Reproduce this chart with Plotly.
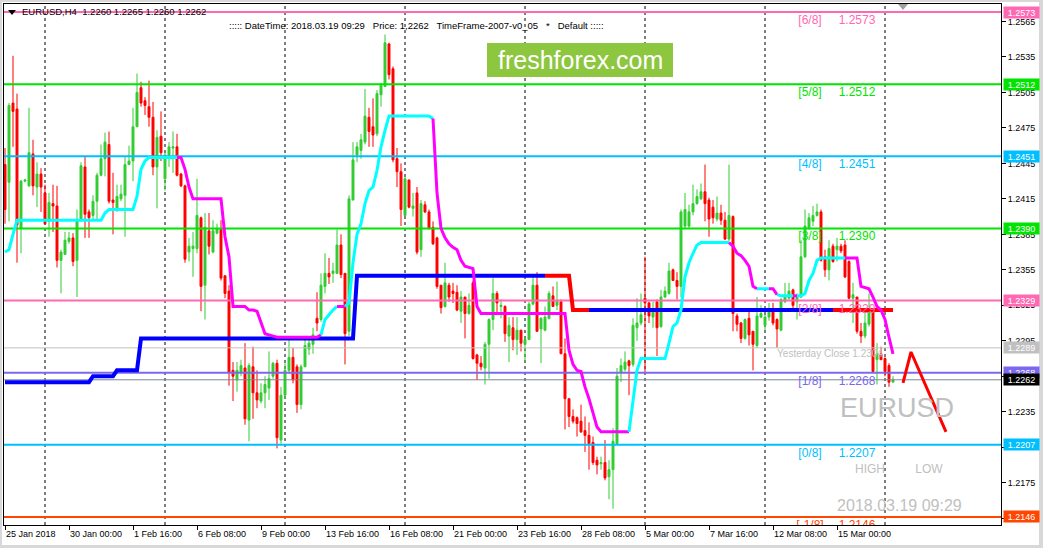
import plotly.graph_objects as go

# ---------------- data (EURUSD H4, 223 bars, bar index 0 = 25 Jan 2018 08:00) ----------------
bar_open = [
    1.2444, 1.2429, 1.2496, 1.2491, 1.2390, 1.2430, 1.2426, 1.2453, 1.2425, 1.2436,
    1.2420, 1.2396, 1.2411, 1.2409, 1.2363, 1.2368, 1.2379, 1.2382, 1.2363, 1.2397,
    1.2442, 1.2404, 1.2401, 1.2413, 1.2435, 1.2449, 1.2461, 1.2414, 1.2407, 1.2415,
    1.2418, 1.2444, 1.2447, 1.2476, 1.2509, 1.2498, 1.2493, 1.2484, 1.2442, 1.2468,
    1.2432, 1.2452, 1.2458, 1.2459, 1.2436, 1.2426, 1.2370, 1.2373, 1.2373, 1.2399,
    1.2342, 1.2388, 1.2370, 1.2386, 1.2389, 1.2350, 1.2337, 1.2270, 1.2262, 1.2268,
    1.2272, 1.2228, 1.2273, 1.2251, 1.2244, 1.2251, 1.2255, 1.2265, 1.2276, 1.2211,
    1.2249, 1.2270, 1.2281, 1.2273, 1.2241, 1.2273, 1.2288, 1.2292, 1.2314, 1.2313,
    1.2341, 1.2352, 1.2352, 1.2352, 1.2376, 1.2352, 1.2303, 1.2414, 1.2452, 1.2456,
    1.2463, 1.2484, 1.2476, 1.2470, 1.2503, 1.2510, 1.2546, 1.2525, 1.2449, 1.2438,
    1.2401, 1.2431, 1.2407, 1.2420, 1.2372, 1.2410, 1.2404, 1.2391, 1.2382, 1.2342,
    1.2324, 1.2342, 1.2337, 1.2336, 1.2320, 1.2332, 1.2318, 1.2344, 1.2283, 1.2276,
    1.2272, 1.2292, 1.2313, 1.2335, 1.2324, 1.2324, 1.2299, 1.2306, 1.2296, 1.2304,
    1.2292, 1.2296, 1.2326, 1.2342, 1.2305, 1.2304, 1.2314, 1.2333, 1.2325, 1.2328,
    1.2284, 1.2246, 1.2231, 1.2230, 1.2227, 1.2219, 1.2215, 1.2209, 1.2194, 1.2191,
    1.2192, 1.2180, 1.2186, 1.2208, 1.2268, 1.2271, 1.2278, 1.2275, 1.2306, 1.2310,
    1.2331, 1.2327, 1.2315, 1.2328, 1.2307, 1.2332, 1.2335, 1.2355, 1.2346, 1.2341,
    1.2392, 1.2392, 1.2404, 1.2411, 1.2415, 1.2421, 1.2414, 1.2408, 1.2398, 1.2403,
    1.2397, 1.2381, 1.2400, 1.2316, 1.2310, 1.2297, 1.2314, 1.2303, 1.2291, 1.2315,
    1.2308, 1.2315, 1.2320, 1.2313, 1.2304, 1.2328, 1.2331, 1.2338, 1.2328, 1.2332,
    1.2366, 1.2390, 1.2396, 1.2401, 1.2404, 1.2366, 1.2355, 1.2375, 1.2372, 1.2375,
    1.2376, 1.2362, 1.2331, 1.2332, 1.2303, 1.2299, 1.2309, 1.2321, 1.2279, 1.2284,
    1.2280, 1.2274, 1.2260,
]
bar_high = [
    1.2458, 1.2496, 1.2536, 1.2504, 1.2431, 1.2432, 1.2492, 1.2465, 1.2446, 1.2441,
    1.2427, 1.2420, 1.2427, 1.2426, 1.2372, 1.2387, 1.2387, 1.2386, 1.2406, 1.2446,
    1.2451, 1.2406, 1.2418, 1.2437, 1.2461, 1.2471, 1.2472, 1.2437, 1.2427, 1.2427,
    1.2451, 1.2460, 1.2492, 1.2521, 1.2514, 1.2501, 1.2515, 1.2497, 1.2473, 1.2489,
    1.2454, 1.2463, 1.2472, 1.2470, 1.2437, 1.2427, 1.2382, 1.2387, 1.2432, 1.2400,
    1.2403, 1.2403, 1.2397, 1.2394, 1.2397, 1.2350, 1.2342, 1.2277, 1.2277, 1.2279,
    1.2293, 1.2276, 1.2290, 1.2270, 1.2259, 1.2265, 1.2286, 1.2277, 1.2279, 1.2256,
    1.2276, 1.2296, 1.2289, 1.2275, 1.2275, 1.2297, 1.2299, 1.2306, 1.2336, 1.2352,
    1.2369, 1.2365, 1.2361, 1.2389, 1.2385, 1.2352, 1.2418, 1.2463, 1.2463, 1.2470,
    1.2508, 1.2492, 1.2500, 1.2507, 1.2513, 1.2554, 1.2547, 1.2527, 1.2458, 1.2445,
    1.2434, 1.2431, 1.2420, 1.2425, 1.2414, 1.2413, 1.2406, 1.2396, 1.2383, 1.2342,
    1.2361, 1.2344, 1.2344, 1.2342, 1.2337, 1.2332, 1.2335, 1.2346, 1.2284, 1.2282,
    1.2294, 1.2314, 1.2348, 1.2337, 1.2330, 1.2325, 1.2315, 1.2315, 1.2315, 1.2304,
    1.2298, 1.2328, 1.2349, 1.2353, 1.2315, 1.2324, 1.2337, 1.2341, 1.2345, 1.2330,
    1.2297, 1.2246, 1.2237, 1.2231, 1.2241, 1.2231, 1.2226, 1.2214, 1.2197, 1.2197,
    1.2211, 1.2194, 1.2221, 1.2272, 1.2280, 1.2286, 1.2279, 1.2314, 1.2331, 1.2335,
    1.2366, 1.2328, 1.2328, 1.2330, 1.2338, 1.2341, 1.2361, 1.2356, 1.2353, 1.2406,
    1.2420, 1.2410, 1.2427, 1.2423, 1.2428, 1.2444, 1.2416, 1.2414, 1.2417, 1.2410,
    1.2404, 1.2444, 1.2401, 1.2318, 1.2311, 1.2314, 1.2320, 1.2303, 1.2332, 1.2325,
    1.2317, 1.2327, 1.2327, 1.2314, 1.2331, 1.2344, 1.2344, 1.2339, 1.2335, 1.2380,
    1.2406, 1.2403, 1.2409, 1.2411, 1.2406, 1.2372, 1.2380, 1.2377, 1.2382, 1.2377,
    1.2380, 1.2363, 1.2344, 1.2332, 1.2310, 1.2320, 1.2335, 1.2322, 1.2293, 1.2290,
    1.2281, 1.2276, 1.2265,
]
bar_low = [
    1.2394, 1.2396, 1.2459, 1.2361, 1.2369, 1.2429, 1.2425, 1.2418, 1.2408, 1.2404,
    1.2393, 1.2383, 1.2387, 1.2357, 1.2335, 1.2368, 1.2377, 1.2358, 1.2332, 1.2396,
    1.2382, 1.2382, 1.2397, 1.2398, 1.2434, 1.2434, 1.2411, 1.2385, 1.2404, 1.2413,
    1.2383, 1.2444, 1.2430, 1.2476, 1.2493, 1.2486, 1.2476, 1.2435, 1.2407, 1.2447,
    1.2422, 1.2442, 1.2437, 1.2434, 1.2425, 1.2361, 1.2362, 1.2349, 1.2369, 1.2320,
    1.2313, 1.2368, 1.2369, 1.2385, 1.2346, 1.2331, 1.2257, 1.2244, 1.2252, 1.2265,
    1.2224, 1.2210, 1.2229, 1.2238, 1.2242, 1.2238, 1.2245, 1.2263, 1.2204, 1.2208,
    1.2246, 1.2267, 1.2259, 1.2234, 1.2237, 1.2273, 1.2283, 1.2284, 1.2303, 1.2311,
    1.2335, 1.2343, 1.2344, 1.2352, 1.2348, 1.2275, 1.2299, 1.2414, 1.2446, 1.2449,
    1.2461, 1.2459, 1.2459, 1.2468, 1.2493, 1.2510, 1.2516, 1.2446, 1.2425, 1.2392,
    1.2400, 1.2407, 1.2400, 1.2368, 1.2366, 1.2403, 1.2389, 1.2376, 1.2339, 1.2318,
    1.2323, 1.2328, 1.2327, 1.2320, 1.2310, 1.2297, 1.2317, 1.2279, 1.2262, 1.2270,
    1.2258, 1.2263, 1.2304, 1.2318, 1.2314, 1.2294, 1.2277, 1.2287, 1.2283, 1.2286,
    1.2277, 1.2296, 1.2325, 1.2303, 1.2276, 1.2303, 1.2313, 1.2324, 1.2321, 1.2284,
    1.2220, 1.2222, 1.2225, 1.2214, 1.2217, 1.2201, 1.2186, 1.2190, 1.2182, 1.2186,
    1.2177, 1.2161, 1.2153, 1.2208, 1.2260, 1.2269, 1.2249, 1.2273, 1.2295, 1.2308,
    1.2268, 1.2310, 1.2306, 1.2282, 1.2306, 1.2331, 1.2334, 1.2346, 1.2330, 1.2332,
    1.2390, 1.2390, 1.2401, 1.2410, 1.2414, 1.2396, 1.2383, 1.2394, 1.2396, 1.2393,
    1.2380, 1.2379, 1.2303, 1.2303, 1.2293, 1.2296, 1.2291, 1.2270, 1.2289, 1.2314,
    1.2304, 1.2312, 1.2308, 1.2289, 1.2303, 1.2327, 1.2330, 1.2322, 1.2313, 1.2331,
    1.2365, 1.2389, 1.2392, 1.2400, 1.2362, 1.2349, 1.2346, 1.2361, 1.2362, 1.2369,
    1.2348, 1.2330, 1.2310, 1.2301, 1.2293, 1.2297, 1.2307, 1.2268, 1.2258, 1.2279,
    1.2265, 1.2256, 1.2260,
]
bar_close = [
    1.2406, 1.2494, 1.2489, 1.2393, 1.2430, 1.2431, 1.2454, 1.2426, 1.2436, 1.2425,
    1.2394, 1.2412, 1.2409, 1.2363, 1.2370, 1.2380, 1.2382, 1.2362, 1.2397, 1.2443,
    1.2402, 1.2399, 1.2413, 1.2435, 1.2449, 1.2463, 1.2413, 1.2412, 1.2417, 1.2419,
    1.2444, 1.2447, 1.2476, 1.2505, 1.2496, 1.2494, 1.2484, 1.2442, 1.2467, 1.2454,
    1.2452, 1.2459, 1.2459, 1.2435, 1.2426, 1.2364, 1.2375, 1.2375, 1.2401, 1.2341,
    1.2391, 1.2375, 1.2388, 1.2390, 1.2348, 1.2335, 1.2268, 1.2265, 1.2270, 1.2274,
    1.2229, 1.2274, 1.2251, 1.2245, 1.2251, 1.2258, 1.2263, 1.2276, 1.2213, 1.2249,
    1.2270, 1.2281, 1.2262, 1.2241, 1.2273, 1.2291, 1.2293, 1.2300, 1.2310, 1.2342,
    1.2352, 1.2349, 1.2354, 1.2376, 1.2351, 1.2301, 1.2415, 1.2448, 1.2459, 1.2465,
    1.2485, 1.2472, 1.2469, 1.2504, 1.2511, 1.2547, 1.2520, 1.2448, 1.2438, 1.2406,
    1.2432, 1.2408, 1.2409, 1.2370, 1.2411, 1.2404, 1.2390, 1.2377, 1.2341, 1.2323,
    1.2344, 1.2332, 1.2335, 1.2321, 1.2332, 1.2318, 1.2325, 1.2280, 1.2276, 1.2273,
    1.2292, 1.2313, 1.2335, 1.2327, 1.2325, 1.2301, 1.2308, 1.2296, 1.2304, 1.2293,
    1.2296, 1.2326, 1.2342, 1.2303, 1.2314, 1.2315, 1.2335, 1.2324, 1.2329, 1.2284,
    1.2246, 1.2231, 1.2227, 1.2225, 1.2218, 1.2215, 1.2208, 1.2192, 1.2190, 1.2192,
    1.2179, 1.2186, 1.2210, 1.2265, 1.2274, 1.2277, 1.2274, 1.2308, 1.2310, 1.2317,
    1.2327, 1.2316, 1.2320, 1.2306, 1.2332, 1.2337, 1.2354, 1.2346, 1.2341, 1.2404,
    1.2406, 1.2404, 1.2411, 1.2417, 1.2421, 1.2411, 1.2398, 1.2399, 1.2403, 1.2397,
    1.2381, 1.2401, 1.2318, 1.2309, 1.2297, 1.2313, 1.2300, 1.2292, 1.2316, 1.2318,
    1.2315, 1.2320, 1.2310, 1.2305, 1.2330, 1.2332, 1.2337, 1.2325, 1.2332, 1.2366,
    1.2392, 1.2399, 1.2401, 1.2404, 1.2363, 1.2355, 1.2373, 1.2362, 1.2375, 1.2371,
    1.2349, 1.2331, 1.2334, 1.2303, 1.2299, 1.2310, 1.2321, 1.2269, 1.2284, 1.2279,
    1.2269, 1.2260, 1.2262,
]

# trailing line (cyan when trend up, magenta when trend down)
trail_values = (
    [1.2370, 1.2372, 1.2385] + [1.2397] * 22 + [1.2403] + [1.2406] * 7
    + [1.2417, 1.2440, 1.2447] + [1.2450] * 9 + [1.2440, 1.2425] + [1.2415] * 8
    + [1.2383, 1.2366] + [1.2324] * 4
    + [1.2321, 1.2321, 1.2320, 1.2310, 1.2301, 1.2300, 1.2299] + [1.2298] * 11
    + [1.2300, 1.2313, 1.2317, 1.2321] + [1.2324] * 3
    + [1.2327, 1.2361, 1.2385, 1.2394, 1.2411, 1.2422, 1.2425, 1.2439, 1.2459, 1.2473]
    + [1.2485] * 11
    + [1.2483, 1.2420, 1.2390, 1.2382, 1.2377, 1.2374, 1.2372, 1.2363, 1.2358, 1.2357, 1.2356, 1.2324]
    + [1.2318] * 22
    + [1.2287, 1.2275, 1.2270, 1.2269, 1.2256, 1.2246, 1.2234, 1.2222] + [1.2218] * 8
    + [1.2242, 1.2270] + [1.2280] * 7
    + [1.2293, 1.2307, 1.2310, 1.2321, 1.2349, 1.2361, 1.2369, 1.2376] + [1.2378] * 8
    + [1.2375, 1.2369, 1.2367, 1.2363, 1.2358, 1.2341] + [1.2339] * 5 + [1.2334]
    + [1.2333] * 6 + [1.2335, 1.2346, 1.2352, 1.2363] + [1.2365] * 10
    + [1.2341, 1.2340, 1.2339, 1.2332, 1.2324, 1.2321, 1.2313, 1.2298, 1.2284]
)
trail_trend = ([1] * 44 + [-1] * 36 + [1] * 4 + [-1] * 2 + [1] * 22 + [-1] * 49 + [1] * 25
               + [-1] * 7 + [1] * 3 + [-1] * 2 + [1] * 4 + [-1] * 1 + [1] * 12 + [-1] * 12)

# stepped support/resistance line (blue up, red down)
step_values = ([1.2260] * 22 + [1.2265] * 6 + [1.2270] * 6 + [1.2297] * 54
               + [1.2350] * 54 + [1.2321] * 81)
step_trend = [1] * 136 + [-1] * 11 + [1] * 61 + [-1] * 15

# Murrey math levels
level_names = ["[6/8]", "[5/8]", "[4/8]", "[3/8]", "[2/8]", "[1/8]", "[0/8]", "[-1/8]"]
level_values = [1.2573, 1.2512, 1.2451, 1.2390, 1.2329, 1.2268, 1.2207, 1.2146]
level_colors = ["#FF69B4", "#00E400", "#00BFFF", "#00E400", "#FF69B4", "#7B68EE", "#00BFFF", "#FF4500"]

yesterday_close = 1.2289
current_price = 1.2262

week_starts = [10, 40, 70, 100, 130, 160, 190, 220]
x_tick_bars = [0, 16, 32, 48, 64, 80, 96, 112, 128, 144, 160, 176, 192, 208]
x_tick_labels = ["25 Jan 2018", "30 Jan 00:00", "1 Feb 16:00", "6 Feb 08:00", "9 Feb 00:00",
                 "13 Feb 16:00", "16 Feb 08:00", "21 Feb 00:00", "23 Feb 16:00", "28 Feb 08:00",
                 "5 Mar 00:00", "7 Mar 16:00", "12 Mar 08:00", "15 Mar 00:00"]
y_tick_values = [1.2565, 1.2535, 1.2505, 1.2475, 1.2445, 1.2415, 1.2385, 1.2355,
                 1.2325, 1.2295, 1.2265, 1.2235, 1.2205, 1.2175, 1.2145]

forecast_x = [224.5, 226.5, 235.25]
forecast_y = [1.22593, 1.22855, 1.22179]

# ---------------- figure ----------------
W, H = 1043, 548
PL, PR, PT, PB = 4, 1001, 4, 525
X_RANGE = [-0.25, 249]
Y_RANGE = [1.21392, 1.25798]
PX_PRICE = (Y_RANGE[1] - Y_RANGE[0]) / (PB - PT)   # price per pixel
FONT = "Liberation Sans, Arial, sans-serif"


def fx(px):
    return (px - PL) / (PR - PL)


def fy(py):
    return (PB - py) / (PB - PT)


fig = go.Figure()
n = len(bar_close)
xs = list(range(n))

fig.add_trace(go.Candlestick(
    x=xs, open=bar_open, high=bar_high, low=bar_low, close=bar_close,
    increasing=dict(line=dict(color="#32CD32", width=1), fillcolor="#32CD32"),
    decreasing=dict(line=dict(color="#FF0000", width=1), fillcolor="#FF0000"),
    whiskerwidth=0, hoverinfo="skip", showlegend=False,
))

# horizontal lines
for v, c in zip(level_values, level_colors):
    fig.add_trace(go.Scatter(x=[X_RANGE[0] - 1, X_RANGE[1] + 1], y=[v, v], mode="lines",
                             line=dict(color=c, width=2), hoverinfo="skip", showlegend=False))
fig.add_trace(go.Scatter(x=[X_RANGE[0] - 1, X_RANGE[1] + 1], y=[yesterday_close] * 2, mode="lines",
                         line=dict(color="#C0C0C0", width=1), hoverinfo="skip", showlegend=False))
fig.add_trace(go.Scatter(x=[X_RANGE[0] - 1, X_RANGE[1] + 1], y=[current_price] * 2, mode="lines",
                         line=dict(color="#778899", width=1), hoverinfo="skip", showlegend=False))


def runs(trend):
    out, s = [], 0
    for i in range(1, len(trend) + 1):
        if i == len(trend) or trend[i] != trend[s]:
            out.append((s, i - 1, trend[s]))
            s = i
    return out


for s, e, t in runs(step_trend):
    a = max(s - 1, 0)
    fig.add_trace(go.Scatter(x=xs[a:e + 1], y=step_values[a:e + 1], mode="lines",
                             line=dict(color="#0000FF" if t > 0 else "#FF0000", width=4),
                             hoverinfo="skip", showlegend=False))

for s, e, t in runs(trail_trend):
    a = max(s - 1, 0)
    fig.add_trace(go.Scatter(x=xs[a:e + 1], y=trail_values[a:e + 1], mode="lines",
                             line=dict(color="#00FFFF" if t > 0 else "#FF00FF", width=3),
                             hoverinfo="skip", showlegend=False))

fig.add_trace(go.Scatter(x=forecast_x, y=forecast_y, mode="lines",
                         line=dict(color="#FF0000", width=3), hoverinfo="skip", showlegend=False))

# level texts (drawn just under each level line)
for name, v, c in zip(level_names, level_values, level_colors):
    fig.add_trace(go.Scatter(x=[201.25, 213], y=[v - 3 * PX_PRICE] * 2, mode="text",
                             text=[name, f"{v:.4f}"], textposition="bottom center",
                             textfont=dict(family=FONT, size=12, color=c),
                             hoverinfo="skip", showlegend=False))
fig.add_trace(go.Scatter(x=[206.25], y=[yesterday_close - 2 * PX_PRICE], mode="text",
                         text=["Yesterday Close 1.2304"], textposition="bottom center",
                         textfont=dict(family=FONT, size=10, color="#C0C0C0"),
                         hoverinfo="skip", showlegend=False))
fig.add_trace(go.Scatter(x=[223.0], y=[1.22365], mode="text", text=["EURUSD"],
                         textposition="middle center",
                         textfont=dict(family=FONT, size=27, color="#C0C0C0"),
                         hoverinfo="skip", showlegend=False))
fig.add_trace(go.Scatter(x=[216.25, 231], y=[1.21857, 1.21857], mode="text", text=["HIGH", "LOW"],
                         textposition="middle center",
                         textfont=dict(family=FONT, size=12, color="#C0C0C0"),
                         hoverinfo="skip", showlegend=False))
fig.add_trace(go.Scatter(x=[223.6], y=[1.21545], mode="text", text=["2018.03.19 09:29"],
                         textposition="middle center",
                         textfont=dict(family=FONT, size=16, color="#C0C0C0"),
                         hoverinfo="skip", showlegend=False))

shapes = []
for b in week_starts:
    shapes.append(dict(type="line", xref="x", yref="paper", x0=b, x1=b, y0=0, y1=1, layer="below",
                       line=dict(color="black", width=1, dash="3px,3px")))
# logo box
shapes.append(dict(type="rect", xref="paper", yref="paper", x0=fx(487), x1=fx(673), y0=fy(77), y1=fy(43),
                   fillcolor="#8DC63F", line=dict(width=0), layer="above"))
# chart shift marker
shapes.append(dict(type="path", xref="paper", yref="paper",
                   path=f"M {fx(898)},{fy(4)} L {fx(908)},{fy(4)} L {fx(903)},{fy(10)} Z",
                   fillcolor="#A0A0A0", line=dict(width=0)))
# header drop-down triangle
shapes.append(dict(type="path", xref="paper", yref="paper",
                   path=f"M {fx(8)},{fy(10)} L {fx(16)},{fy(10)} L {fx(12)},{fy(15)} Z",
                   fillcolor="black", line=dict(width=0)))
# window frame
for x0, x1, y0, y1 in [(0, 2, 0, H), (1039, W, 0, H), (0, W, 0, 2), (0, W, 545, H)]:
    shapes.append(dict(type="rect", xref="paper", yref="paper", x0=fx(x0), x1=fx(x1), y0=fy(y1), y1=fy(y0),
                       fillcolor="#D8D8D8", line=dict(width=0)))

annotations = [
    dict(xref="paper", yref="paper", x=fx(580), y=fy(60), text="freshforex.com", showarrow=False,
         font=dict(family=FONT, size=25, color="white"), xanchor="center", yanchor="middle"),
    dict(xref="paper", yref="paper", x=fx(20), y=fy(12), text="EURUSD,H4  1.2260 1.2265 1.2260 1.2262",
         showarrow=False, font=dict(family=FONT, size=9.5, color="black"), xanchor="left", yanchor="middle"),
    dict(xref="paper", yref="paper", x=fx(227), y=fy(25),
         text="::::: DateTime: 2018.03.19 09:29   Price: 1,2262   TimeFrame-2007-v0_05   *   Default :::::",
         showarrow=False, font=dict(family=FONT, size=9.5, color="black"), xanchor="left", yanchor="middle"),
]

axis_labels = [(1.2573, "#FF69B4"), (1.2512, "#00E400"), (1.2451, "#00BFFF"), (1.2390, "#00E400"),
               (1.2329, "#FF69B4"), (1.2289, "#C0C0C0"), (1.2268, "#7B68EE"), (1.2262, "#000000"),
               (1.2207, "#00BFFF"), (1.2146, "#FF4500")]
for v, c in axis_labels:
    annotations.append(dict(xref="paper", yref="y", x=1, y=v, xanchor="left", yanchor="middle", xshift=2,
                            text=f"{v:.4f}", showarrow=False, bgcolor=c, width=35, height=11, borderpad=0,
                            font=dict(family=FONT, size=9, color="white")))

fig.update_layout(
    width=W, height=H, margin=dict(l=PL, r=W - PR, t=PT, b=H - PB, autoexpand=False),
    paper_bgcolor="white", plot_bgcolor="white", showlegend=False,
    xaxis=dict(range=X_RANGE, showgrid=False, zeroline=False, showline=True, mirror=True,
               linecolor="black", linewidth=1, ticks="outside", ticklen=4, tickcolor="black",
               tickvals=x_tick_bars, ticktext=x_tick_labels, ticklabelposition="outside right",
               tickfont=dict(family=FONT, size=9, color="black"), automargin=False,
               rangeslider=dict(visible=False), fixedrange=True),
    yaxis=dict(range=Y_RANGE, side="right", showgrid=False, zeroline=False, showline=True, mirror=True,
               linecolor="black", linewidth=1, ticks="outside", ticklen=4, tickcolor="black",
               tickvals=y_tick_values, ticktext=[f"{v:.4f}" for v in y_tick_values], automargin=False,
               tickfont=dict(family=FONT, size=9, color="black"), fixedrange=True),
    shapes=shapes, annotations=annotations,
)

fig.write_html("out.html", config={"displayModeBar": False, "staticPlot": True},
               post_script="document.body.style.margin='0';document.body.style.overflow='hidden';")
